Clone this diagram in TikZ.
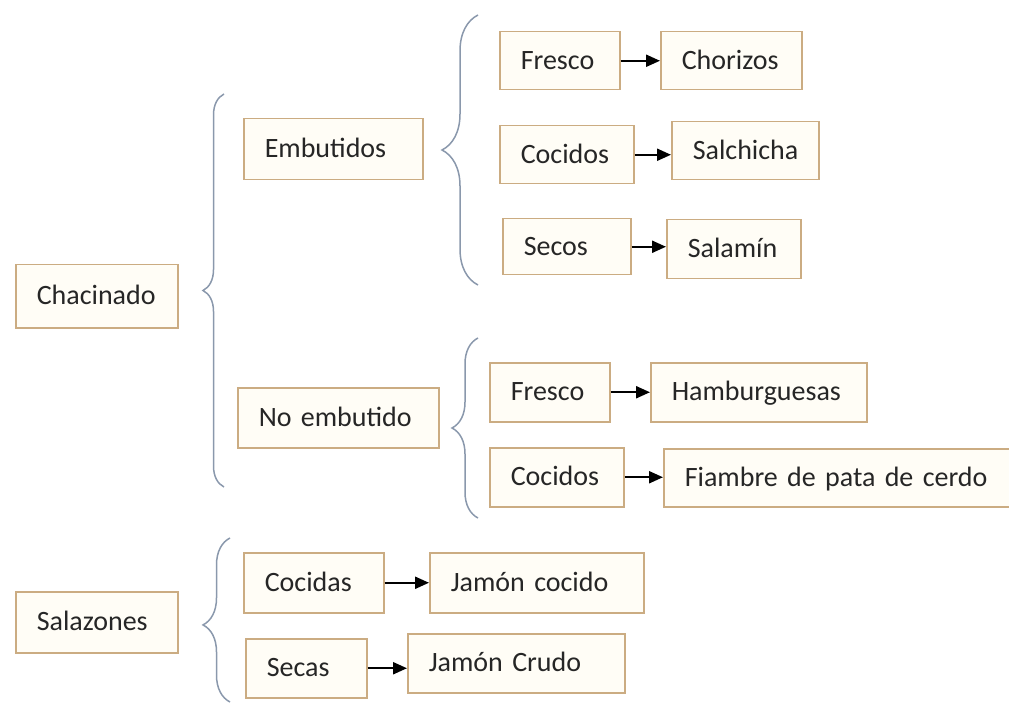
\documentclass[tikz,border=0pt]{standalone}
\usepackage{fontspec}
\setmainfont{Carlito}
\usepackage{xcolor}
\definecolor{boxtan}{RGB}{203, 172, 130}
\definecolor{boxcream}{RGB}{255, 253, 246}
\definecolor{bracegray}{RGB}{138, 152, 172}
\definecolor{inkgray}{RGB}{38, 38, 38}
\usepackage{tikz}
\usetikzlibrary{arrows.meta, positioning, decorations.pathreplacing}
\hyphenpenalty=10000

\begin{document}
\begin{tikzpicture}[x=1pt, y=-1pt, >={Triangle[length=14pt, width=12pt]},
    caja/.style={draw=boxtan, line width=1.5pt, fill=boxcream, anchor=north west,
        inner xsep=21pt, inner ysep=0pt, align=left, text=inkgray,
        text height=21pt, text depth=4pt, font=\fontsize{28}{33}\selectfont},
    flecha/.style={->, line width=2.2pt, black},
    llave/.style={decorate, decoration={brace, amplitude=#1}, bracegray, line width=1.5pt}]
    \useasboundingbox (0,0) rectangle (1009,703);

    % first level
    \node[caja, text width=120pt, minimum height=63pt] (chacinado) at (15,264) {Chacinado};
    \node[caja, text width=120pt, minimum height=61pt] (salazones) at (15,591) {Salazones};
    \draw[llave=21pt] (224,487) -- (224,94);
    \draw[llave=27pt, decoration={aspect=0.47}] (230,702) -- (230,538);

    % chacinado
    \node[caja, text width=137pt, minimum height=61pt] (embutidos) at (243,118) {Embutidos};
    \node[caja, text width=159pt, minimum height=60pt] (noembutido) at (237,387) {No embutido};
    \draw[llave=36pt] (478,285) -- (478,15);
    \draw[llave=26pt] (478,518) -- (478,338);

    % embutidos
    \node[caja, text width=78pt, minimum height=58pt] (fresco1) at (499,31) {Fresco};
    \node[caja, text width=99pt, minimum height=58pt] (chorizos) at (660,31) {Chorizos};
    \node[caja, text width=92pt, minimum height=58pt] (cocidos1) at (499,125) {Cocidos};
    \node[caja, text width=105pt, minimum height=58pt] (salchicha) at (671,121) {Salchicha};
    \node[caja, text width=86pt, minimum height=56pt] (secos) at (502,218) {Secos};
    \node[caja, text width=92pt, minimum height=59pt] (salamin) at (666,219) {Salamín};
    \draw[flecha] (fresco1.east) -- (fresco1.east -| chorizos.west);
    \draw[flecha] (cocidos1.east) -- (cocidos1.east -| salchicha.west);
    \draw[flecha] (secos.east) -- (secos.east -| salamin.west);

    % no embutido
    \node[caja, text width=78pt, minimum height=59pt] (fresco2) at (489,362) {Fresco};
    \node[caja, text width=174pt, minimum height=59pt] (hamburguesas) at (650,362) {Hamburguesas};
    \node[caja, text width=92pt, minimum height=59pt] (cocidos2) at (489,447) {Cocidos};
    \node[caja, text width=320pt, minimum height=58pt] (fiambre) at (663,448) {Fiambre de pata de cerdo};
    \draw[flecha] (fresco2.east) -- (fresco2.east -| hamburguesas.west);
    \draw[flecha] (cocidos2.east) -- (cocidos2.east -| fiambre.west);

    % salazones
    \node[caja, text width=98pt, minimum height=60pt] (cocidas) at (243,552) {Cocidas};
    \node[caja, text width=172pt, minimum height=60pt] (jamoncocido) at (429,552) {Jamón cocido};
    \node[caja, text width=79pt, minimum height=59pt] (secas) at (245,638) {Secas};
    \node[caja, text width=175pt, minimum height=59pt] (jamoncrudo) at (407,633) {Jamón Crudo};
    \draw[flecha] (cocidas.east) -- (cocidas.east -| jamoncocido.west);
    \draw[flecha] (secas.east) -- (secas.east -| jamoncrudo.west);
\end{tikzpicture}
\end{document}
